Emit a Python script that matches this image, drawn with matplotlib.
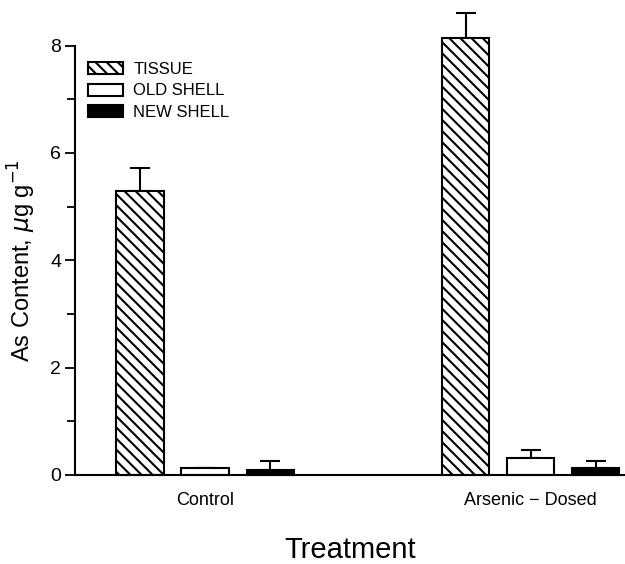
import numpy as np
import matplotlib
matplotlib.use("Agg")
import matplotlib.pyplot as plt
from matplotlib.ticker import MultipleLocator

treatments = ["Control", "Arsenic \u2212 Dosed"]
series = ["TISSUE", "OLD SHELL", "NEW SHELL"]
tissue = [5.3, 8.15]
tissue_err = [0.42, 0.45]
old_shell = [0.13, 0.32]
old_shell_err = [0.0, 0.15]
new_shell = [0.10, 0.13]
new_shell_err = [0.15, 0.13]

plt.rcParams["font.family"] = ["Liberation Sans", "DejaVu Sans"]
plt.rcParams["hatch.linewidth"] = 1.5

fig = plt.figure(figsize=(6.25, 5.64), dpi=100)
ax = fig.add_axes([0.12, 0.158, 0.88, 0.761])

centers = np.array([0.0, 5.0])
width = 0.73
step = 1.0

styles = [
    dict(facecolor="white", hatch="\\\\\\"),
    dict(facecolor="white"),
    dict(facecolor="black"),
]
values = [tissue, old_shell, new_shell]
errors = [tissue_err, old_shell_err, new_shell_err]

for i, (name, vals, errs, st) in enumerate(zip(series, values, errors, styles)):
    x = centers + (i - 1) * step
    ax.bar(x, vals, width=width, edgecolor="black", linewidth=1.5,
           label=name, zorder=2, clip_on=False, **st)
    # upper error bars only
    eb = ax.errorbar(x, vals, yerr=[np.zeros(len(errs)), errs], fmt="none",
                     ecolor="black", elinewidth=1.5, capsize=7, capthick=1.5,
                     zorder=1)
    for art in eb.lines[1] + eb.lines[2]:
        art.set_clip_on(False)

ax.set_xlim(-2.0, 6.45)
ax.set_ylim(0, 8)
ax.set_xticks(centers)
ax.set_xticklabels(treatments, fontsize=13)
ax.tick_params(axis="x", length=0, pad=12)
ax.yaxis.set_major_locator(MultipleLocator(2))
ax.yaxis.set_minor_locator(MultipleLocator(1))
ax.tick_params(axis="y", which="major", length=7, width=1.3, labelsize=14, pad=3)
ax.tick_params(axis="y", which="minor", length=6, width=1.3)

for side in ["top", "right"]:
    ax.spines[side].set_visible(False)
ax.spines["left"].set_linewidth(1.5)
ax.spines["bottom"].set_linewidth(1.5)

ax.set_ylabel(r"As Content, $\mu$g g$^{-1}$", fontsize=17)
ax.yaxis.set_label_coords(-0.068, 0.5)
ax.set_xlabel("Treatment", fontsize=21, labelpad=20)

ax.legend(loc="upper left", bbox_to_anchor=(0.012, 0.978), frameon=False,
          fontsize=12, handlelength=2.1, handleheight=0.75,
          labelspacing=0.4, handletextpad=0.6, borderaxespad=0)

fig.savefig("out.png", dpi=100)
